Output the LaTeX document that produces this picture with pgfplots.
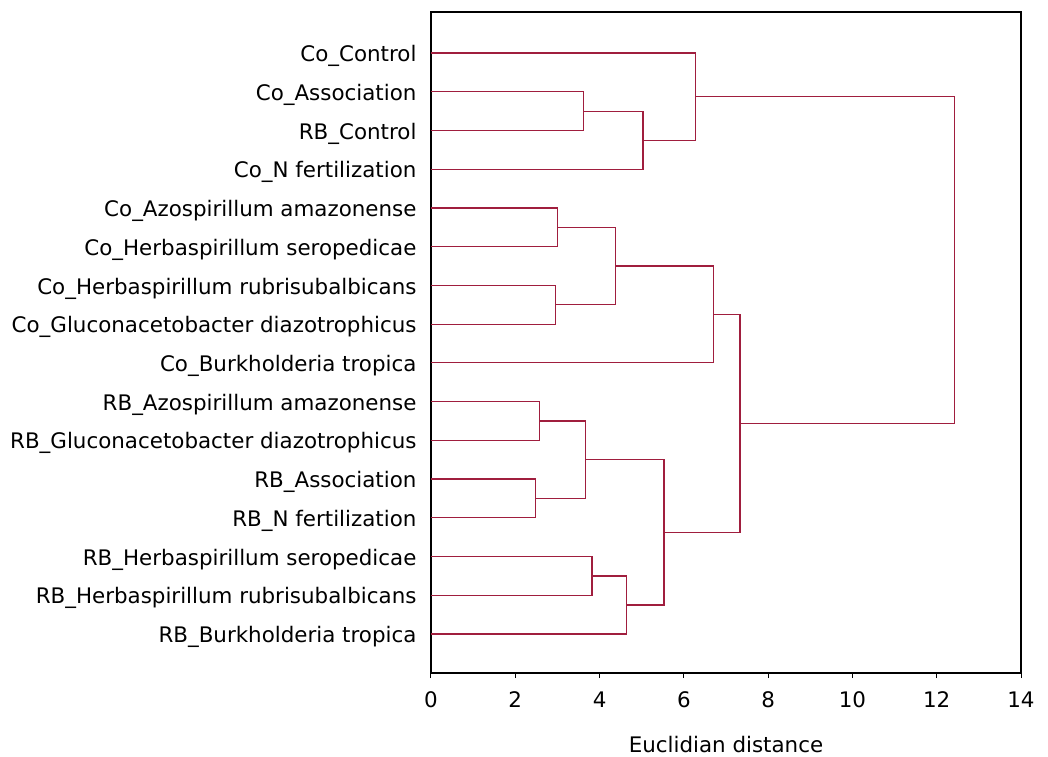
\documentclass[border=0pt]{standalone}
\usepackage{pgfplots}
\pgfplotsset{compat=1.18}
\usepackage{fontspec}
\setmainfont{DejaVu Sans}
\usetikzlibrary{calc}
\definecolor{branch}{RGB}{160,30,62}
\tikzset{br/.style={draw=branch, line width=0.6pt, mark=none, solid}}
\begin{document}
\fontsize{10.7}{12.8}\selectfont
\begin{tikzpicture}
\begin{axis}[
  name=ax,
  scale only axis,
  width=295pt, height=330.5pt,
  xmin=0, xmax=14, ymin=-1.007, ymax=16.06,
  xtick={0,2,...,14},
  ytick={0,...,15},
  yticklabels={RB\_Burkholderia tropica, RB\_Herbaspirillum rubrisubalbicans, RB\_Herbaspirillum seropedicae, RB\_N fertilization, RB\_Association, RB\_Gluconacetobacter diazotrophicus, RB\_Azospirillum amazonense\ , Co\_Burkholderia tropica, Co\_Gluconacetobacter diazotrophicus, Co\_Herbaspirillum rubrisubalbicans, Co\_Herbaspirillum seropedicae, Co\_Azospirillum amazonense\ , Co\_N fertilization, RB\_Control, Co\_Association, Co\_Control},
  /pgf/number format/assume math mode=true,
  tick label style={font=\fontsize{10.7}{12.8}\selectfont},
  label style={font=\fontsize{10.7}{12.8}\selectfont},
  xtick align=outside,
  xtick pos=bottom,
  major tick length=2.5pt,
  x tick style={black, line width=0.5pt},
  y tick style={draw=none},
  ytick pos=left,
  yticklabel style={xshift=-3.5pt, yshift=-1.5pt},
  xticklabel style={yshift=-3pt},
  axis line style={black, line width=0.6pt},
  xlabel={Euclidian distance},
  xlabel style={at={(axis description cs:0.5,0)}, anchor=center, yshift=-36pt},
  clip=false,
]
% Co cluster 1
\addplot[br] coordinates {(0,14) (3.61,14) (3.61,13) (0,13)};
\addplot[br] coordinates {(3.61,13.5) (5.03,13.5) (5.03,12) (0,12)};
\addplot[br] coordinates {(0,15) (6.27,15) (6.27,12.75) (5.03,12.75)};
% Co cluster 2
\addplot[br] coordinates {(0,11) (3.01,11) (3.01,10) (0,10)};
\addplot[br] coordinates {(0,9) (2.96,9) (2.96,8) (0,8)};
\addplot[br] coordinates {(3.01,10.5) (4.37,10.5) (4.37,8.5) (2.96,8.5)};
\addplot[br] coordinates {(4.37,9.5) (6.71,9.5) (6.71,7) (0,7)};
% RB cluster
\addplot[br] coordinates {(0,6) (2.57,6) (2.57,5) (0,5)};
\addplot[br] coordinates {(0,4) (2.48,4) (2.48,3) (0,3)};
\addplot[br] coordinates {(2.57,5.5) (3.66,5.5) (3.66,3.5) (2.48,3.5)};
\addplot[br] coordinates {(0,2) (3.82,2) (3.82,1) (0,1)};
\addplot[br] coordinates {(3.82,1.5) (4.63,1.5) (4.63,0) (0,0)};
\addplot[br] coordinates {(3.66,4.5) (5.53,4.5) (5.53,0.75) (4.63,0.75)};
% upper joins
\addplot[br] coordinates {(6.71,8.25) (7.33,8.25) (7.33,2.625) (5.53,2.625)};
\addplot[br] coordinates {(6.27,13.875) (12.43,13.875) (12.43,5.4375) (7.33,5.4375)};
\end{axis}
\pgfresetboundingbox
\path ($(ax.south west)+(-215.5pt,-41.5pt)$) rectangle ($(ax.north east)+(13.5pt,6pt)$);
\end{tikzpicture}
\end{document}
